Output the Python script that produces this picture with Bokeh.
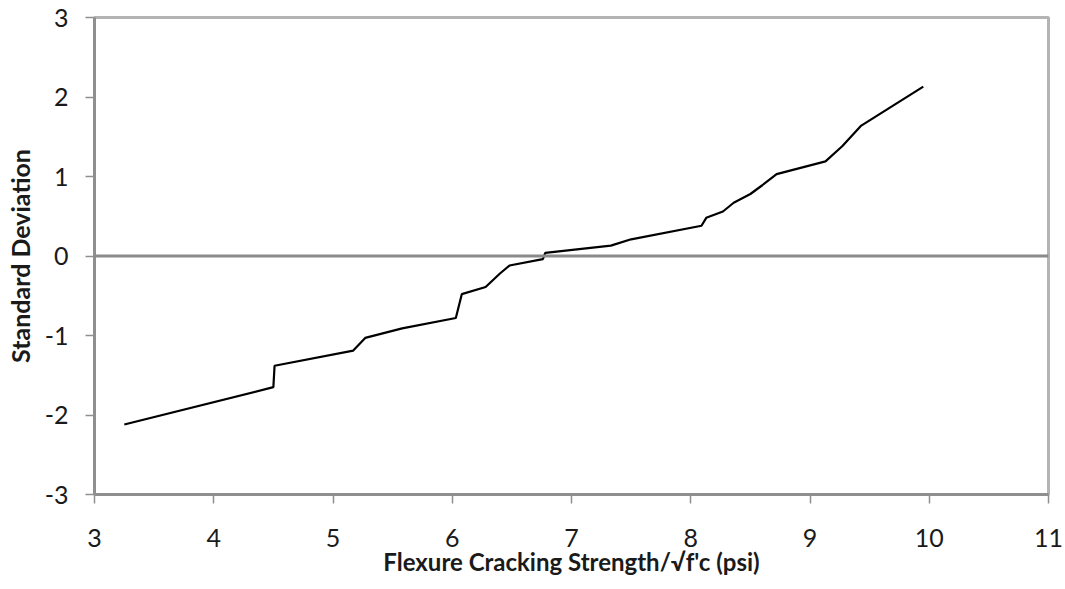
from bokeh.plotting import figure
from bokeh.models import Span, FixedTicker, Range1d
from bokeh.embed import file_html
from bokeh.resources import INLINE

# Data
strength = [3.25, 4.50, 4.51, 5.17, 5.27, 5.58, 6.03, 6.08, 6.28, 6.40, 6.48, 6.76, 6.78,
            7.33, 7.50, 8.09, 8.13, 8.27, 8.36, 8.50, 8.60, 8.72, 9.13, 9.27, 9.43, 9.95]
std_dev = [-2.12, -1.65, -1.38, -1.19, -1.03, -0.91, -0.78, -0.48, -0.39, -0.22, -0.12, -0.04, 0.04,
           0.13, 0.21, 0.38, 0.48, 0.56, 0.67, 0.78, 0.89, 1.03, 1.19, 1.38, 1.64, 2.13]
x_ticks = [3, 4, 5, 6, 7, 8, 9, 10, 11]
y_ticks = [-3, -2, -1, 0, 1, 2, 3]
y_tick_labels = ["-3", "-2", "-1", "0", "1", "2", "3"]

FONT = "Lato"
TEXT = "#1a1a1a"

p = figure(width=1065, height=589, output_backend="svg", toolbar_location=None,
           x_range=Range1d(3, 11), y_range=Range1d(-3, 3),
           min_border_left=94, min_border_right=17, min_border_top=17, min_border_bottom=95)

p.line(strength, std_dev, line_color="black", line_width=2.2)

p.add_layout(Span(location=0, dimension="width", line_color="#8a8a8a", line_width=3))

p.xgrid.visible = False
p.ygrid.visible = False
p.outline_line_color = "#b4b4b4"
p.outline_line_width = 3
p.background_fill_color = "white"
p.border_fill_color = "white"

for ax in (p.xaxis[0], p.yaxis[0]):
    ax.axis_line_color = "#8f8f8f"
    ax.axis_line_width = 3
    ax.major_tick_line_color = "#8f8f8f"
    ax.major_tick_line_width = 1.5
    ax.major_tick_in = 0
    ax.major_tick_out = 9
    ax.minor_tick_line_color = None
    ax.major_label_text_font = FONT
    ax.major_label_text_font_size = "25px"
    ax.major_label_text_color = TEXT
    ax.axis_label_text_font = FONT
    ax.axis_label_text_font_style = "bold"
    ax.axis_label_text_color = TEXT

p.xaxis.axis_label_text_font_size = "24px"
p.yaxis.axis_label_text_font_size = "25px"
p.xaxis.ticker = FixedTicker(ticks=x_ticks)
p.yaxis.ticker = FixedTicker(ticks=y_ticks)
p.yaxis.major_label_overrides = {t: s for t, s in zip(y_ticks, y_tick_labels)}
p.xaxis.major_label_standoff = 25
p.yaxis.major_label_standoff = 17
p.xaxis.axis_label = "Flexure Cracking Strength/\u221af'c (psi)"
p.yaxis.axis_label = "Standard Deviation"
p.xaxis.axis_label_standoff = -3
p.yaxis.axis_label_standoff = 7

open("out.html", "w").write(file_html(p, INLINE))
